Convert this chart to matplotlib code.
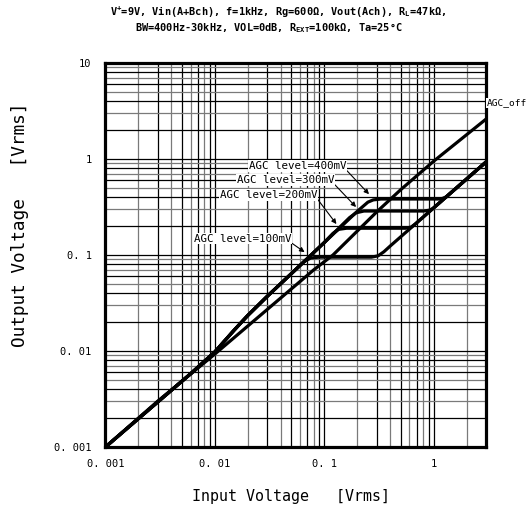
import matplotlib
matplotlib.use("Agg")
import matplotlib.pyplot as plt

MONO = ["DejaVu Sans Mono", "DejaVu Sans", "Noto Sans CJK JP"]
plt.rcParams["font.family"] = MONO
plt.rcParams["mathtext.fontset"] = "custom"
plt.rcParams["mathtext.rm"] = "DejaVu Sans Mono"
plt.rcParams["mathtext.bf"] = "DejaVu Sans Mono:bold"

# AGC off: output follows the input with roughly unity gain
vin_off = [0.001, 0.003, 0.01, 0.03, 0.08, 0.12, 0.3, 0.5, 1.0, 3.0]
vout_off = [0.001, 0.003, 0.0093, 0.027, 0.07, 0.1, 0.28, 0.48, 0.95, 2.6]

# AGC curves: boosted rise, flat output at the AGC level, then attenuated rise
agc_labels = ["AGC level=100mV", "AGC level=200mV", "AGC level=300mV", "AGC level=400mV"]
agc_vin = [
    [0.001, 0.006, 0.01, 0.015, 0.02, 0.03, 0.05, 0.065, 0.075, 0.09, 0.2, 0.27, 0.31, 0.35, 0.4, 0.5, 1.0, 3.0],
    [0.001, 0.006, 0.01, 0.015, 0.02, 0.03, 0.05, 0.1, 0.12, 0.135, 0.16, 0.55, 0.62, 0.68, 0.8, 1.0, 3.0],
    [0.001, 0.006, 0.01, 0.015, 0.02, 0.03, 0.05, 0.1, 0.17, 0.195, 0.23, 0.8, 0.9, 0.98, 1.1, 3.0],
    [0.001, 0.006, 0.01, 0.015, 0.02, 0.03, 0.05, 0.1, 0.2, 0.25, 0.28, 0.33, 1.1, 1.2, 1.3, 1.5, 3.0],
]
agc_vout = [
    [0.001, 0.0058, 0.0098, 0.0165, 0.0235, 0.037, 0.064, 0.085, 0.093, 0.095, 0.095, 0.095, 0.098, 0.108, 0.124, 0.155, 0.31, 0.93],
    [0.001, 0.0058, 0.0098, 0.0165, 0.0235, 0.037, 0.064, 0.135, 0.168, 0.185, 0.19, 0.19, 0.195, 0.211, 0.248, 0.31, 0.93],
    [0.001, 0.0058, 0.0098, 0.0165, 0.0235, 0.037, 0.064, 0.135, 0.245, 0.275, 0.287, 0.287, 0.292, 0.304, 0.341, 0.93],
    [0.001, 0.0058, 0.0098, 0.0165, 0.0235, 0.037, 0.064, 0.135, 0.285, 0.355, 0.375, 0.383, 0.383, 0.388, 0.403, 0.465, 0.93],
]

x_ticks = [0.001, 0.01, 0.1, 1]
x_tick_labels = ["0. 001", "0. 01", "0. 1", "1"]
y_ticks = [0.001, 0.01, 0.1, 1, 10]
y_tick_labels = ["0. 001", "0. 01", "0. 1", "1", "10"]

fig = plt.figure(figsize=(5.28, 5.13), dpi=100)
ax = fig.add_axes([0.1998, 0.1287, 0.7206, 0.7485])
ax.set_xscale("log")
ax.set_yscale("log")
ax.set_xlim(0.001, 3)
ax.set_ylim(0.001, 10)

# Log grid on every 1..9 multiple of each decade
for dec in [0.001, 0.01, 0.1, 1]:
    for m in range(1, 10):
        v = dec * m
        if 0.001 < v < 3:
            c = "black" if m % 2 == 1 else "#7a7a7a"
            ax.axvline(v, color=c, lw=0.9, zorder=1)
for dec in [0.001, 0.01, 0.1, 1]:
    for m in range(1, 10):
        v = dec * m
        if 0.001 < v < 10:
            c = "black" if (m % 2 == 0 or m == 1) else "#7a7a7a"
            ax.axhline(v, color=c, lw=0.9, zorder=1)

ax.plot(vin_off, vout_off, color="black", lw=2.3, zorder=3, solid_capstyle="butt")
for xs, ys in zip(agc_vin, agc_vout):
    ax.plot(xs, ys, color="black", lw=2.3, zorder=3, solid_joinstyle="round")

for s in ax.spines.values():
    s.set_linewidth(2.3)
    s.set_zorder(5)
ax.minorticks_off()
ax.set_xticks(x_ticks)
ax.set_xticklabels(x_tick_labels)
ax.set_yticks(y_ticks)
ax.set_yticklabels(y_tick_labels)
ax.tick_params(which="both", length=0, labelsize=7.5)
ax.tick_params(axis="x", pad=9)
ax.tick_params(axis="y", pad=10)

fig.text(0.551, 1 - 497 / 513, "Input Voltage   [Vrms]", ha="center", va="center", fontsize=10.8)
fig.text(0.038, 1 - 225 / 513, "Output Voltage   [Vrms]", ha="center", va="center",
         rotation=90, fontsize=12.8)

fig.text(0.526, 0.977,
         r"V$^{\mathbf{+}}$=9V, Vin(A+Bch), f=1kHz, Rg=600Ω, Vout(Ach), R$_{\mathbf{L}}$=47kΩ,",
         ha="center", va="center", fontsize=7.4, fontweight="bold")
fig.text(0.51, 0.945,
         r"BW=400Hz-30kHz, VOL=0dB, R$_{\mathbf{EXT}}$=100kΩ, Ta=25°C",
         ha="center", va="center", fontsize=7.4, fontweight="bold")

# Level annotations: label anchor (left edge, centre) and arrow tip
bbox = dict(boxstyle="square,pad=0.05", fc="white", ec="none")
notes = [
    (agc_labels[3], (0.0204, 0.845), (0.256, 0.43), (1.0, 0.1)),
    (agc_labels[2], (0.0158, 0.604), (0.195, 0.316), (1.0, 0.1)),
    (agc_labels[1], (0.0111, 0.422), (0.129, 0.21), (1.0, 0.1)),
    (agc_labels[0], (0.00645, 0.147), (0.066, 0.107), (0.97, 0.3)),
]
for txt, xyt, xy, rp in notes:
    ax.annotate(txt, xy=xy, xytext=xyt, ha="left", va="center", fontsize=7.8,
                bbox=bbox, zorder=4,
                arrowprops=dict(arrowstyle="-|>", color="black", lw=0.8,
                                shrinkA=0, shrinkB=0, mutation_scale=7,
                                relpos=rp))
fig.text(0.9985, 1 - 103 / 513, "AGC_off", ha="right", va="center", fontsize=6.8,
         bbox=bbox)

fig.savefig("out.png", dpi=100)
